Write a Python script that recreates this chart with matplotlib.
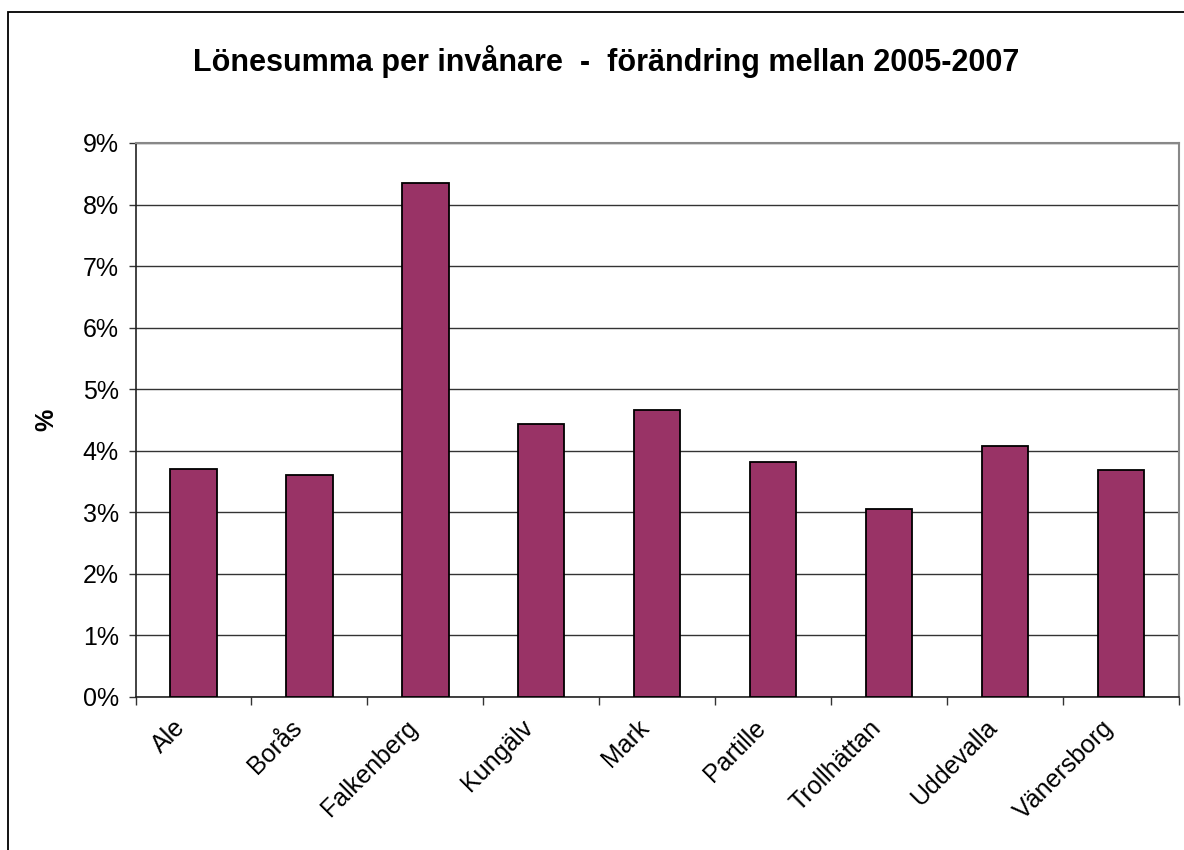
import numpy as np
import matplotlib.pyplot as plt
from matplotlib import patches
from matplotlib.ticker import MultipleLocator, FuncFormatter

plt.rcParams['font.family'] = ['Liberation Sans', 'DejaVu Sans']

kommuner = ['Ale', 'Borås', 'Falkenberg', 'Kungälv', 'Mark', 'Partille',
            'Trollhättan', 'Uddevalla', 'Vänersborg']
forandring = [3.71, 3.61, 8.35, 4.44, 4.67, 3.81, 3.05, 4.07, 3.69]

W, H = 1184, 850
fig = plt.figure(figsize=(W / 100, H / 100), dpi=100)
fig.patch.set_facecolor('white')

# chart area border (runs off the right/bottom edge)
fig.add_artist(patches.Rectangle((8 / W, -0.01), 1.2, (H - 12) / H + 0.01,
                                 transform=fig.transFigure, fill=False,
                                 edgecolor='black', linewidth=1.3))

left, right, top, bottom = 135.5, 1179, 143, 697
ax = fig.add_axes([left / W, 1 - bottom / H, (right - left) / W, (bottom - top) / H])

x = np.arange(len(kommuner))
ax.bar(x, forandring, width=0.4, color='#993366', edgecolor='black', linewidth=1.3, zorder=3)

ax.set_xlim(-0.5, len(kommuner) - 0.5)
ax.set_ylim(0, 9)
ax.yaxis.set_major_locator(MultipleLocator(1))
ax.yaxis.set_major_formatter(FuncFormatter(lambda v, p: f'{v:.0f}%'))
ax.grid(axis='y', color='#333333', linewidth=1.0, zorder=0)

ax.set_xticks(np.append(x - 0.5, len(kommuner) - 0.5))
ax.set_xticklabels([])
for xi, name in zip(x, kommuner):
    ax.text(xi - 0.1, -0.44, name, rotation=45, ha='right', va='center',
            rotation_mode='anchor', fontsize=18, transform=ax.transData)

ax.tick_params(axis='x', direction='out', length=6, width=1, color='#333333')
ax.tick_params(axis='y', direction='out', length=5, width=1, color='#333333',
               labelsize=18, pad=7)

for side in ['left', 'bottom']:
    ax.spines[side].set_color('#222222')
    ax.spines[side].set_linewidth(1.2)
for side in ['right', 'top']:
    ax.spines[side].set_color('#888888')
    ax.spines[side].set_linewidth(1.5)

ax.set_ylabel('%', fontsize=18, fontweight='bold')
ax.yaxis.set_label_coords((58 - left) / (right - left), 0.5)

fig.text(606 / W, 1 - 62 / H, 'Lönesumma per invånare  -  förändring mellan 2005-2007',
         ha='center', va='center', fontsize=22, fontweight='bold')

fig.savefig('out.png', dpi=100, facecolor='white')
